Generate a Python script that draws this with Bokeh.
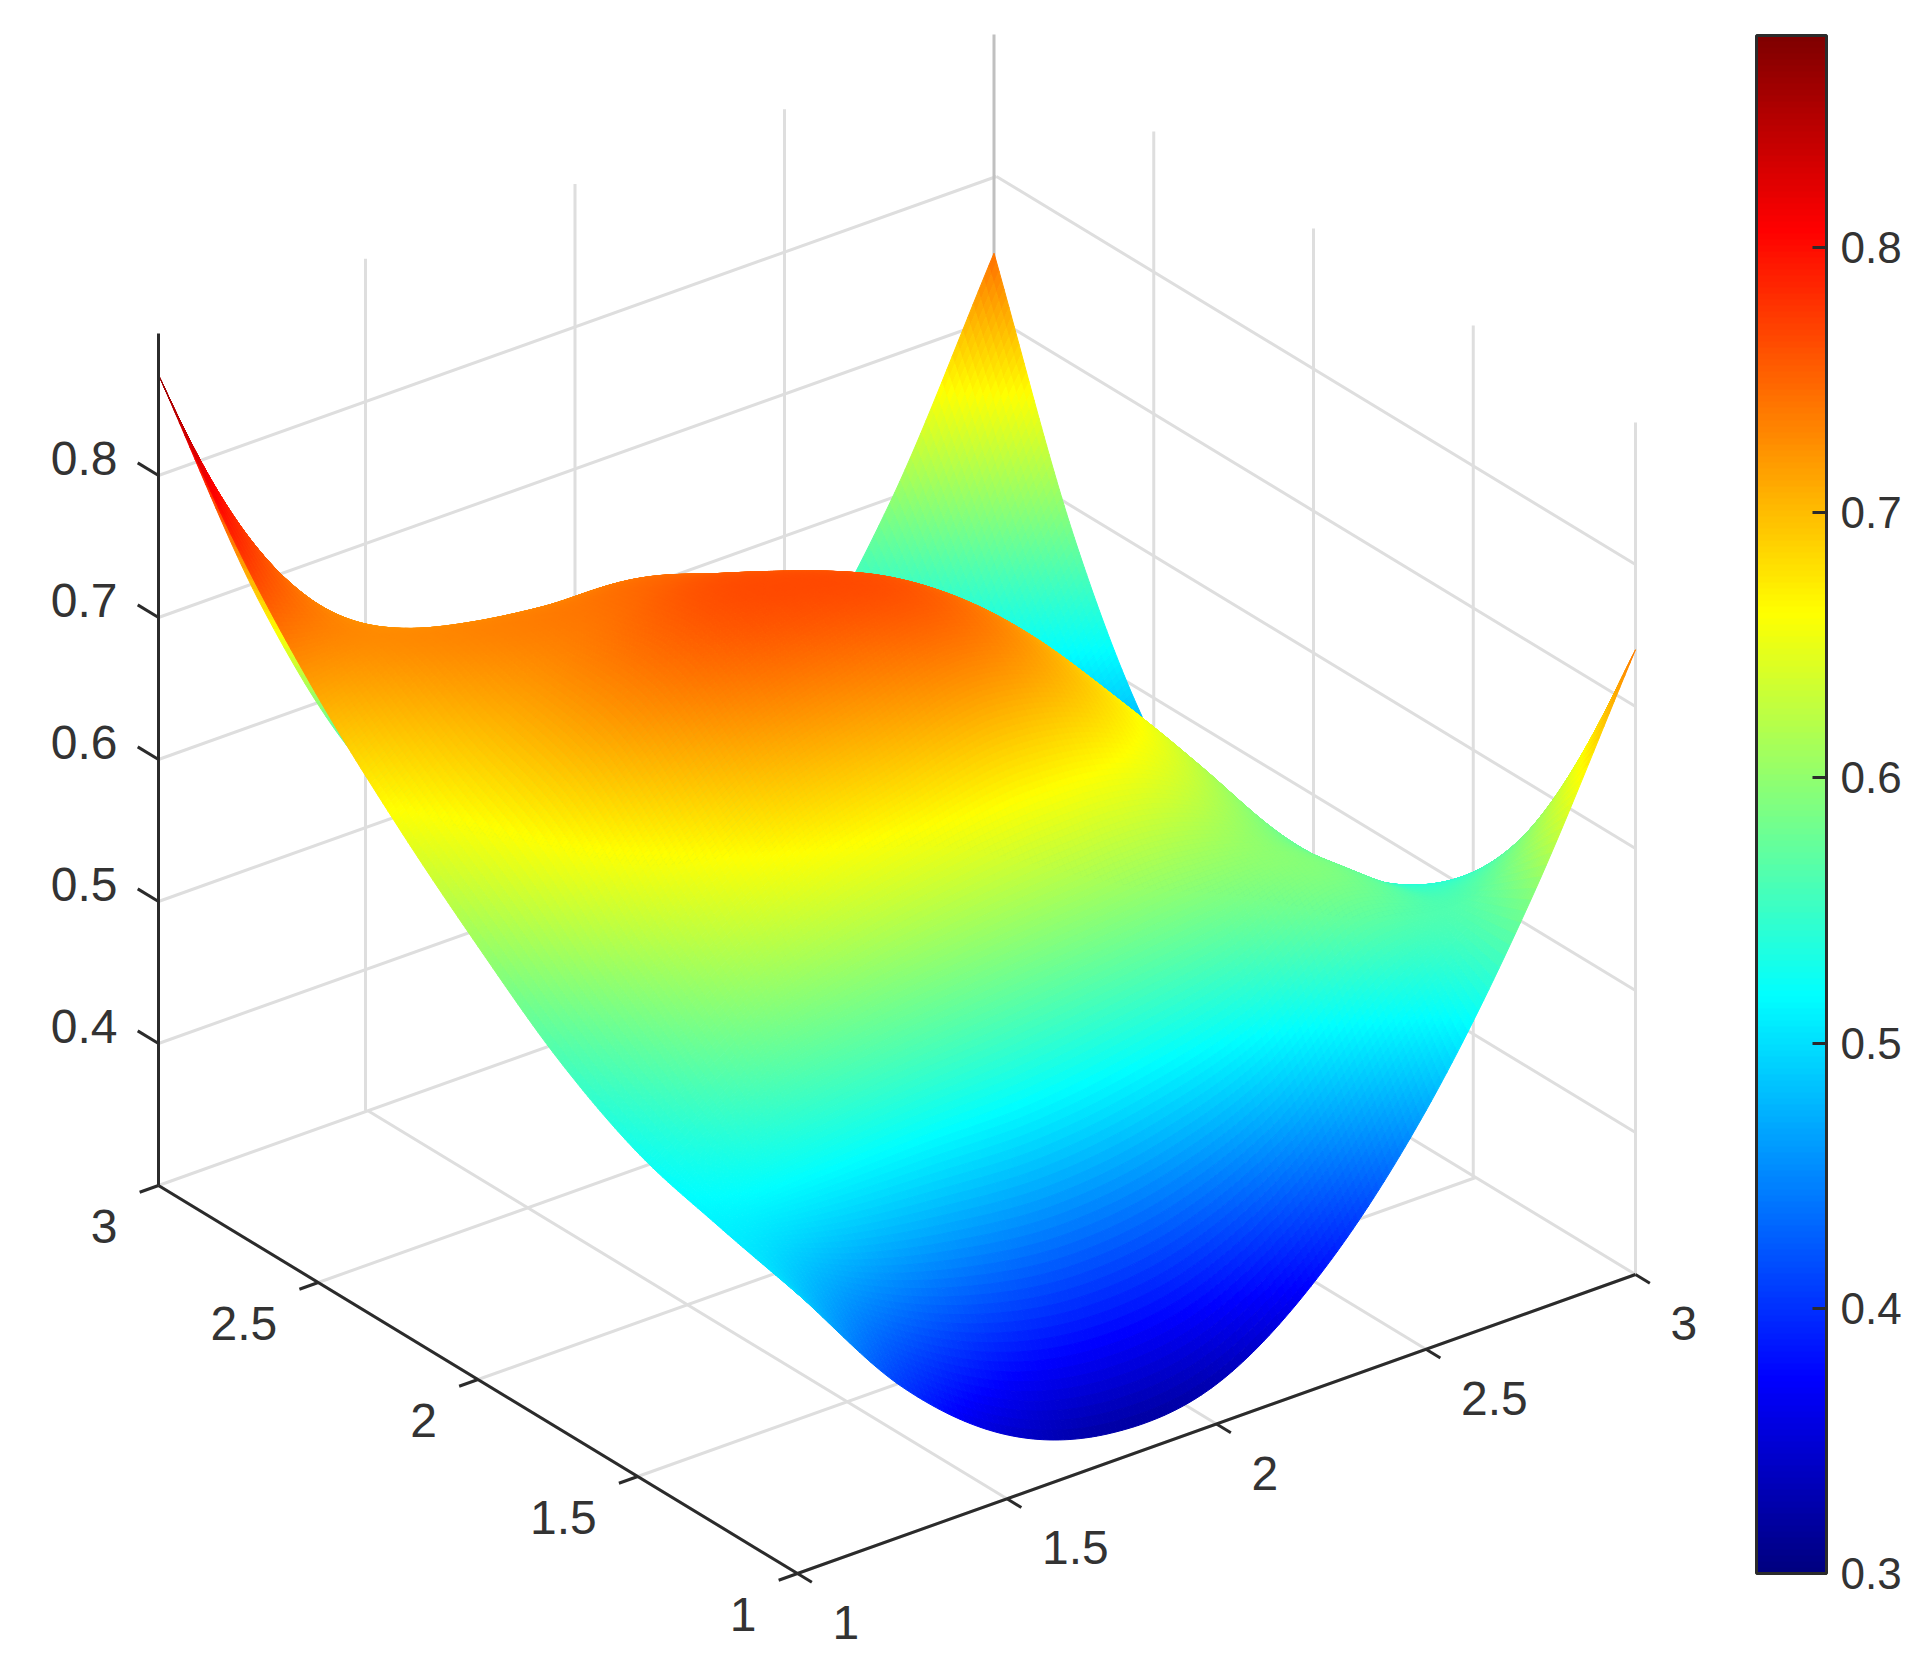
import numpy as np
from bokeh.plotting import figure
from bokeh.models import Range1d, ColorBar, LinearColorMapper, FixedTicker, PrintfTickFormatter
from bokeh.core.properties import value
from bokeh.embed import file_html
from bokeh.resources import INLINE

# ---- data ----
X_TICKS = [1, 1.5, 2, 2.5, 3]
Y_TICKS = [1, 1.5, 2, 2.5, 3]
Z_TICKS = [0.4, 0.5, 0.6, 0.7, 0.8]
CB_TICKS = [0.3, 0.4, 0.5, 0.6, 0.7, 0.8]
X_SAMPLES = [1.0, 1.25, 1.5, 1.75, 2.0, 2.25, 2.5, 2.75, 3.0]
Y_SAMPLES = [1.0, 1.25, 1.5, 1.75, 2.0, 2.25, 2.5, 2.75, 3.0]
Z_Y100 = [.497, .405, .345, .320, .328, .380, .468, .590, .740]
Z_Y125 = [.511, .510, .511, .511, .521, .540, .580, .560, .595]
Z_Y150 = [.528, .580, .605, .620, .628, .628, .595, .535, .500]
Z_Y175 = [.560, .632, .685, .710, .728, .695, .615, .500, .450]
Z_Y200 = [.605, .690, .740, .762, .758, .695, .580, .470, .420]
Z_Y225 = [.655, .712, .742, .754, .708, .600, .490, .430, .425]
Z_Y250 = [.712, .730, .717, .695, .600, .490, .450, .440, .470]
Z_Y275 = [.782, .700, .570, .520, .460, .440, .450, .500, .580]
Z_Y300 = [.871, .680, .540, .470, .440, .440, .490, .596, .746]
Z_MIN, Z_MAX = 0.3, 0.9
C_LOW, C_HIGH = 0.3, 0.88

# ---- layout of the box on the page (reference pixels) ----
FRONT = np.array([797.0, 1573.0])
LEFT = np.array([158.0, 1185.0])
RIGHT = np.array([1635.0, 1274.0])
EX = (RIGHT - FRONT) / 2
EY = (LEFT - FRONT) / 2
EZ = np.array([0.0, -1420.0])
INK = "#2b2b2b"
GRID = "#dedede"
TEXT = "#333333"
FONT = "Liberation Sans"


def proj(x, y, z):
    x, y, z = np.asarray(x, float), np.asarray(y, float), np.asarray(z, float)
    return (FRONT[0] + (x - 1) * EX[0] + (y - 1) * EY[0] + (z - Z_MIN) * EZ[0],
            FRONT[1] + (x - 1) * EX[1] + (y - 1) * EY[1] + (z - Z_MIN) * EZ[1])


def jet(t):
    t = np.clip(t, 0, 1)
    r = np.clip(np.minimum(4 * t - 1.5, -4 * t + 4.5), 0, 1)
    g = np.clip(np.minimum(4 * t - 0.5, -4 * t + 3.5), 0, 1)
    b = np.clip(np.minimum(4 * t + 0.5, -4 * t + 2.5), 0, 1)
    return r, g, b


def hexes(t):
    r, g, b = jet(np.asarray(t))
    return ["#%02x%02x%02x" % (int(a * 255 + .5), int(c * 255 + .5), int(d * 255 + .5))
            for a, c, d in zip(r.ravel(), g.ravel(), b.ravel())]


def smooth(arr, n):
    """Catmull-Rom shading between the read values, along the first axis."""
    a = np.concatenate([2 * arr[:1] - arr[1:2], arr, 2 * arr[-1:] - arr[-2:-1]], axis=0)
    m = arr.shape[0] - 1
    out = []
    for i in range(m):
        for k in range(n + (i == m - 1)):
            s = k / n
            w = [(-s**3 + 2*s*s - s) / 2, (3*s**3 - 5*s*s + 2) / 2,
                 (-3*s**3 + 4*s*s + s) / 2, (s**3 - s*s) / 2]
            out.append(sum(w[j] * a[i + j] for j in range(4)))
    return np.array(out)


SUB_X, SUB_Y = 20, 32
table = np.array([Z_Y100, Z_Y125, Z_Y150, Z_Y175, Z_Y200, Z_Y225, Z_Y250, Z_Y275, Z_Y300])
Zs = smooth(smooth(table, SUB_Y).T, SUB_X).T      # rows = y, cols = x
xs_f = np.linspace(X_SAMPLES[0], X_SAMPLES[-1], Zs.shape[1])
ys_f = np.linspace(Y_SAMPLES[0], Y_SAMPLES[-1], Zs.shape[0])
XX, YY = np.meshgrid(xs_f, ys_f)
PX, PY = proj(XX, YY, Zs)
PX = PX - 2.5 * (XX - 1) * (YY - 1) / 4           # the box narrows slightly towards its far corner

quad_x, quad_y, quad_z, order = [], [], [], []
for j in range(Zs.shape[0] - 1):
    for i in range(Zs.shape[1] - 1):
        quad_x.append([PX[j, i], PX[j, i + 1], PX[j + 1, i + 1], PX[j + 1, i]])
        quad_y.append([PY[j, i], PY[j, i + 1], PY[j + 1, i + 1], PY[j + 1, i]])
        quad_z.append((Zs[j, i] + Zs[j, i + 1] + Zs[j + 1, i + 1] + Zs[j + 1, i]) / 4)
        order.append(-(XX[j, i] + YY[j, i]))      # far corner first
idx = np.argsort(order, kind="stable")
quad_x = [quad_x[i] for i in idx]
quad_y = [quad_y[i] for i in idx]
quad_z = np.array(quad_z)[idx]
quad_c = hexes((quad_z - C_LOW) / (C_HIGH - C_LOW))

p = figure(width=1915, height=1664, x_range=Range1d(0, 1915), y_range=Range1d(1664, 0),
           output_backend="svg", toolbar_location=None, min_border=0,
           x_axis_location=None, y_axis_location=None, outline_line_color=None)
p.grid.visible = False


def lines(pts, color, width, dx=0.0):
    xs, ys = [], []
    for a, b in pts:
        xa, ya = proj(*a)
        xb, yb = proj(*b)
        xs.append([float(xa) + dx, float(xb) + dx])
        ys.append([float(ya), float(yb)])
    p.multi_line(xs, ys, line_color=color, line_width=width)


# floor and wall grid
g = []
for t in X_TICKS:
    g.append(((t, 1, Z_MIN), (t, 3, Z_MIN)))
for t in Y_TICKS:
    g.append(((1, t, Z_MIN), (3, t, Z_MIN)))
for t in Z_TICKS:
    g.append(((1, 3, t), (3, 3, t)))
    g.append(((3, 3, t), (3, 1, t)))
lines(g, GRID, 3)
v = []
for t in X_TICKS[1:-1]:
    v.append(((t, 3, Z_MIN), (t, 3, Z_MAX)))
for t in Y_TICKS[1:-1]:
    v.append(((3, t, Z_MIN), (3, t, Z_MAX)))
lines(v, GRID, 3, dx=-2.5)
lines([((3, 1, Z_MIN), (3, 1, Z_MAX))], GRID, 3)
lines([((3, 3, Z_MIN), (3, 3, Z_MAX))], "#c0c0c0", 3, dx=-2.5)

# surface
p.patches(xs=quad_x, ys=quad_y, fill_color=quad_c, line_color=quad_c, line_width=1.0)

# axes
lines([((1, 3, Z_MIN), (1, 1, Z_MIN)), ((1, 1, Z_MIN), (3, 1, Z_MIN)), ((1, 3, Z_MIN), (1, 3, Z_MAX))], INK, 3)
TICK_FRAC = 0.045
t = []
for u in Y_TICKS:
    t.append(((1, u, Z_MIN), (1 - TICK_FRAC, u, Z_MIN)))
for u in X_TICKS:
    t.append(((u, 1, Z_MIN), (u, 1 - TICK_FRAC, Z_MIN)))
for u in Z_TICKS:
    t.append(((1, 3, u), (1, 3 + 0.065, u)))
lines(t, INK, 3)

# tick labels
yx, yy = proj([1] * 5, Y_TICKS, [Z_MIN] * 5)
p.text(yx - 41, yy + 41, text=[f"{u:g}" for u in Y_TICKS], text_align="right", text_baseline="middle",
       text_font=value(FONT), text_font_size="48px", text_color=TEXT)
xx, xy = proj(X_TICKS, [1] * 5, [Z_MIN] * 5)
p.text(xx + 35, xy + 49, text=[f"{u:g}" for u in X_TICKS], text_align="left", text_baseline="middle",
       text_font=value(FONT), text_font_size="48px", text_color=TEXT)
zx, zy = proj([1] * 5, [3] * 5, Z_TICKS)
p.text(zx - 41, zy - 17, text=[f"{u:g}" for u in Z_TICKS], text_align="right", text_baseline="middle",
       text_font=value(FONT), text_font_size="48px", text_color=TEXT)

# colour bar
mapper = LinearColorMapper(palette=hexes(np.linspace(0, 1, 256)), low=C_LOW, high=C_HIGH)
cb = ColorBar(color_mapper=mapper, location=(1756, 91), width=70, height=1538, padding=0, margin=0,
              ticker=FixedTicker(ticks=CB_TICKS), formatter=PrintfTickFormatter(format="%.1f"),
              major_tick_in=14, major_tick_out=0, major_tick_line_color=INK, major_tick_line_width=3,
              bar_line_color=INK, bar_line_width=3, label_standoff=14,
              major_label_text_font=FONT, major_label_text_font_size="44px", major_label_text_color=TEXT,
              background_fill_alpha=0, border_line_color=None)
p.add_layout(cb)

open("out.html", "w").write(file_html(p, INLINE))
